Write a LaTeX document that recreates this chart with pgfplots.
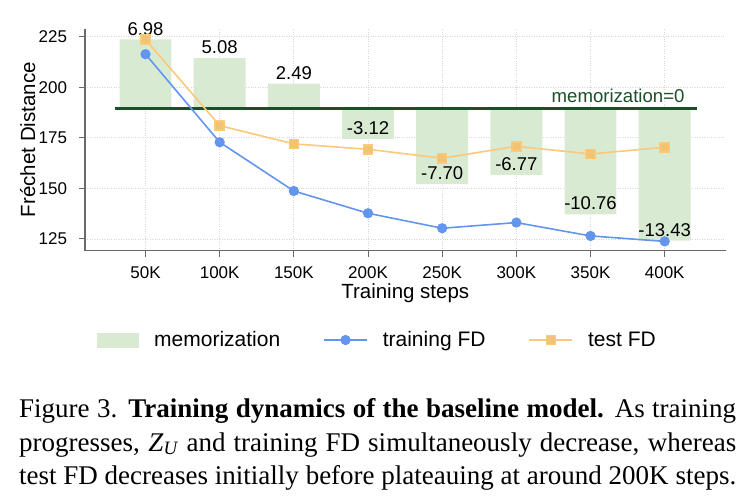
\documentclass[border=0pt]{standalone}
\usepackage{fontspec}
\setmainfont{Liberation Sans}
\newfontfamily\capfont{Liberation Serif}
\usepackage{pgfplots}
\usepackage{pgfplotstable}
\pgfplotsset{compat=1.18}

\definecolor{barfill}{RGB}{217,234,211}
\definecolor{memgreen}{RGB}{28,78,40}
\definecolor{fdblue}{RGB}{99,149,238}
\definecolor{fdorange}{RGB}{252,200,122}
\definecolor{fdorangemk}{RGB}{240,196,112}
\definecolor{spinegray}{RGB}{105,105,105}
\definecolor{gridgray}{RGB}{215,215,215}

\pgfplotsset{
  mylinelegend/.style={legend image code/.code={%
    \draw[mark repeat=2,mark phase=2,##1] plot coordinates {(0pt,0pt) (21.5pt,0pt) (43pt,0pt)};}},
  mybarlegend/.style={legend image code/.code={%
    \fill[barfill] (0pt,-7.5pt) rectangle (42pt,7.5pt);}},
}

\pgfplotstableread{
x m lab
0 6.98 6.98
1 5.08 5.08
2 2.49 2.49
3 -3.12 -3.12
4 -7.70 -7.70
5 -6.77 -6.77
6 -10.76 -10.76
7 -13.43 -13.43
}\memtab

\pgfplotstableread{
x train test
0 216.3 223.5
1 172.8 181.0
2 148.7 172.0
3 137.7 169.3
4 130.3 164.9
5 133.1 170.8
6 126.5 167.0
7 123.8 170.3
}\fdtab

\begin{document}
\begin{tikzpicture}
\useasboundingbox (0,0) rectangle (743pt,503pt);
\begin{axis}[
  at={(85pt,252.3pt)}, anchor=south west,
  scale only axis, width=640.5pt, height=222.2pt,
  xmin=-0.816, xmax=7.82, ymin=119.2, ymax=229.0,
  y coord trafo/.code={\pgfmathparse{#1-189.6}},
  y coord inv trafo/.code={\pgfmathparse{#1+189.6}},
  clip=false,
  axis x line*=bottom, axis y line*=left,
  axis line style={draw=spinegray, line width=1.1pt},
  xtick={0,...,7},
  xticklabels={50K,100K,150K,200K,250K,300K,350K,400K},
  ytick={125,150,175,200,225},
  yticklabels={125,150,175,200,225},
  tick align=outside, major tick length=6pt,
  tick style={draw=spinegray, line width=1pt},
  xmajorgrids, ymajorgrids,
  grid style={draw=gridgray, dotted, line width=0.8pt},
  tick label style={font=\fontsize{17}{17}\selectfont, text=black},
  xticklabel style={anchor=north, inner sep=0pt, yshift=-10pt},
  yticklabel style={anchor=east, inner sep=0pt, xshift=-11.7pt},
  xlabel={Training steps}, ylabel={Fréchet Distance},
  every axis x label/.style={at={(axis description cs:0.5,-0.214)}, anchor=base,
    font=\fontsize{20.5}{20.5}\selectfont},
  every axis y label/.style={at={(axis description cs:-0.078,0.5)}, anchor=base, rotate=90,
    font=\fontsize{20.5}{20.5}\selectfont},
  legend style={at={(axis description cs:0.0187,-0.402)}, anchor=west, draw=none, fill=none,
    inner sep=0pt, font=\fontsize{21}{21}\selectfont, legend columns=3,
    /tikz/every odd column/.style={column sep=13pt},
    /tikz/every even column/.style={column sep=41pt}},
  legend cell align=left,
]
\addplot[ybar, bar width=0.7, bar shift=0pt, fill=barfill, draw=none, area legend, mybarlegend]
  table[x=x, y expr=189.6+4.87*\thisrow{m}] {\memtab};
\addlegendentry{memorization}

\addplot[forget plot, memgreen, line width=2.6pt] coordinates {(-0.41,189.6) (7.43,189.6)};
\node[anchor=base east, font=\fontsize{18.6}{18.6}\selectfont, text=memgreen, inner sep=0pt]
  at (axis cs:7.27,192.4) {memorization=0};

\addplot[forget plot, draw=none, mark=none, nodes near coords, point meta=explicit symbolic,
  every node near coord/.append style={anchor=south, inner sep=0pt, yshift=4pt,
  font=\fontsize{18.5}{18.5}\selectfont, text=black}]
  table[x=x, y expr=189.6+4.87*\thisrow{m}, meta=lab] {\memtab};

\addplot[fdblue, line width=1.6pt, mark=*, mark size=4.3pt, mark options={fill=fdblue, draw=none}, mylinelegend]
  table[x=x, y=train] {\fdtab};
\addlegendentry{training FD}

\addplot[fdorange, line width=1.6pt, mark=square*, mark size=4.5pt, mark options={fill=fdorangemk, draw=none}, mylinelegend]
  table[x=x, y=test] {\fdtab};
\addlegendentry{test FD}
\end{axis}

\node[anchor=base west, inner sep=0pt, font=\capfont\fontsize{27}{33}\selectfont] at (19pt,86pt)
  {\makebox[717pt][s]{Figure 3. \textbf{Training dynamics of the baseline model.} As training}};
\node[anchor=base west, inner sep=0pt, font=\capfont\fontsize{27}{33}\selectfont] at (19pt,52pt)
  {\makebox[717pt][s]{progresses, \textit{Z}\textsubscript{\textit{U}} and training FD simultaneously decrease, whereas}};
\node[anchor=base west, inner sep=0pt, font=\capfont\fontsize{27}{33}\selectfont] at (19pt,19pt)
  {\makebox[717pt][s]{test FD decreases initially before plateauing at around 200K steps.}};
\end{tikzpicture}
\end{document}
